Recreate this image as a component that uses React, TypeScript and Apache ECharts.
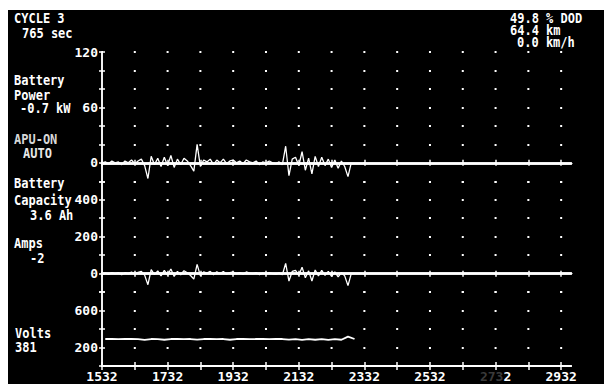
import React, { useEffect, useRef } from "react";
import * as echarts from "echarts";

// ---- data ----
const xTickValues = [1532, 1632, 1732, 1832, 1932, 2032, 2132, 2232, 2332, 2432, 2532, 2632, 2732, 2832, 2932];
const xLabelValues = [1532, 1732, 1932, 2132, 2332, 2532, 2732, 2932];
const powerLabels = [0, 60, 120];
const ampsLabels = [0, 200, 400];
const voltsLabels = [200, 600];

// samples every 10 s starting at 1532 s
const T0 = 1532;
const DT = 10;
const power = [
  0, 1, -1, 2, 0, 1, -2, 2, 0, 3, -1, 2, 4, -3, -17, 7, -2, 5, -4, 6,
  -3, 8, -5, 4, -2, 5, 2, -3, -9, 20, -4, 3, 1, 4, -2, 3, 0, 4, -1, 2,
  3, 0, 2, -1, 3, 1, 0, 2, -2, 1, 0, 2, 0, -1, 1, -2, 18, -14, 4, 6,
  -3, 12, -8, 5, -12, 7, -4, 6, -3, 4, -5, 3, -6, 2, -4, -15, 0,
];
const amps = [
  0, 3, -4, 6, 0, 4, -6, 5, 0, 9, -3, 7, 12, -8, -60, 22, -5, 15, -12, 18,
  -8, 25, -15, 12, -6, 16, 5, -10, -30, 50, -12, 9, 3, 12, -6, 10, 0, 12, -3, 6,
  9, 0, 6, -3, 9, 3, 0, 6, -6, 3, 0, 6, 0, -3, 3, -6, 55, -40, 12, 18,
  -9, 35, -22, 15, -40, 20, -12, 18, -9, 12, -15, 9, -18, 6, -12, -65, 0,
];
// samples every 20 s starting at 1542 s
const VT0 = 1542;
const VDT = 20;
const volts = [
  292, 292, 291, 292, 292, 291, 282, 292, 291, 284, 292, 292, 291, 292, 286, 292, 292, 291, 292, 284,
  292, 292, 291, 292, 292, 291, 292, 292, 285, 292, 283, 290, 284, 292, 282, 291, 284, 318, 292,
];

const FONT = "DejaVu Sans Mono";

export default function App() {
  const ref = useRef<HTMLDivElement>(null);

  useEffect(() => {
    if (!ref.current) return;
    const chart = echarts.init(ref.current, undefined, { renderer: "svg" });

    const L = 102;
    const W = 469;
    const XMIN = 1532;
    const XMAX = 2962;
    const U = 18.47;
    const TOP = 52;
    const period = (100 * W) / (XMAX - XMIN);

    const grids = [
      { left: L, width: W, top: TOP, height: 7 * U },
      { left: L, width: W, top: TOP + 7 * U, height: 6 * U },
      { left: L, width: W, top: TOP + 13 * U, height: 4 * U },
    ];

    const labelStyle = {
      color: "#fff",
      fontFamily: FONT,
      fontSize: 13,
      fontWeight: "bold" as const,
    };

    const mkX = (gi: number, pos: string, lw: number, tl: number, labels: boolean) => ({
      type: "value",
      gridIndex: gi,
      min: XMIN,
      max: XMAX,
      interval: 100,
      position: pos,
      axisLine: { show: true, onZero: true, lineStyle: { color: "#fff", width: lw } },
      axisTick: { show: true, customValues: xTickValues, length: tl, lineStyle: { color: "#fff", width: 1.5 } },
      axisLabel: labels
        ? {
            show: true,
            customValues: xLabelValues,
            margin: 4,
            ...labelStyle,
            formatter: (v: number) => (v === 2732 ? "{f|273}2" : String(v)),
            rich: { f: { color: "#3a3a3a", fontFamily: FONT, fontSize: 13, fontWeight: "bold" } },
          }
        : { show: false },
      splitLine: { show: false },
    });

    const mkY = (gi: number, min: number, max: number, interval: number, labels: number[], second: boolean) => ({
      type: "value",
      gridIndex: gi,
      min,
      max,
      interval,
      position: second ? "right" : "left",
      offset: second ? -W : 0,
      axisLine: { show: true, onZero: false, lineStyle: { color: "#fff", width: 1.5 } },
      axisTick: { show: true, length: 3, lineStyle: { color: "#fff", width: 1.5 } },
      axisLabel: second
        ? { show: false }
        : {
            show: true,
            margin: 4,
            ...labelStyle,
            formatter: (v: number) => (labels.includes(v) ? String(v) : ""),
          },
      splitLine: second
        ? { show: false }
        : { show: true, lineStyle: { color: "#fff", width: 2, type: [2, period - 2], dashOffset: 1 } },
    });

    const txt = (x: number, y: number, text: string, fill = "#fff") => ({
      type: "text",
      x,
      y,
      scaleY: 1.15,
      style: {
        text,
        fill,
        font: `bold 12px "${FONT}"`,
        verticalAlign: "middle",
        align: "left",
      },
    });

    chart.setOption({
      animation: false,
      backgroundColor: "transparent",
      grid: grids,
      xAxis: [
        mkX(0, "bottom", 2.5, 3, false),
        mkX(0, "top", 2.5, 3, false),
        mkX(1, "bottom", 2.5, 3, false),
        mkX(1, "top", 2.5, 3, false),
        mkX(2, "bottom", 2, 4, true),
        mkX(2, "top", 2, 4, false),
      ],
      yAxis: [
        mkY(0, -20, 120, 20, powerLabels, false),
        mkY(0, -20, 120, 20, powerLabels, true),
        mkY(1, -100, 500, 100, ampsLabels, false),
        mkY(1, -100, 500, 100, ampsLabels, true),
        mkY(2, 0, 800, 200, voltsLabels, false),
        mkY(2, 0, 800, 200, voltsLabels, true),
      ],
      series: [
        {
          type: "line",
          xAxisIndex: 0,
          yAxisIndex: 0,
          symbol: "none",
          lineStyle: { color: "#fff", width: 1.3 },
          data: power.map((v, i) => [T0 + i * DT, v]),
        },
        {
          type: "line",
          xAxisIndex: 2,
          yAxisIndex: 2,
          symbol: "none",
          lineStyle: { color: "#fff", width: 1.3 },
          data: amps.map((v, i) => [T0 + i * DT, v]),
        },
        {
          type: "line",
          xAxisIndex: 4,
          yAxisIndex: 4,
          symbol: "none",
          lineStyle: { color: "#fff", width: 1.8 },
          data: volts.map((v, i) => [VT0 + i * VDT, v]),
        },
      ],
      graphic: [
        txt(14, 18, "CYCLE 3"),
        txt(22, 33, "765 sec"),
        txt(14, 80, "Battery"),
        txt(14, 95, "Power"),
        txt(20, 108, "-0.7 kW"),
        txt(14, 139, "APU-ON", "#d8d8d8"),
        txt(23, 153, "AUTO", "#e8e8e8"),
        txt(14, 183, "Battery"),
        txt(14, 200, "Capacity"),
        txt(30, 215, "3.6 Ah"),
        txt(14, 243, "Amps"),
        txt(30, 258, "-2"),
        txt(15, 333, "Volts"),
        txt(15, 347, "381"),
        txt(510, 18, "49.8 % DOD"),
        txt(510, 30, "64.4 km"),
        txt(517, 42, "0.0 km/h"),
      ],
    });

    return () => chart.dispose();
  }, []);

  return (
    <div style={{ position: "fixed", left: 0, top: 0, width: 604, height: 387, background: "#fff" }}>
      <div style={{ position: "absolute", left: 8, top: 10, width: 596, height: 374, background: "#000" }} />
      <div ref={ref} style={{ position: "absolute", left: 0, top: 0, width: 604, height: 387 }} />
    </div>
  );
}
